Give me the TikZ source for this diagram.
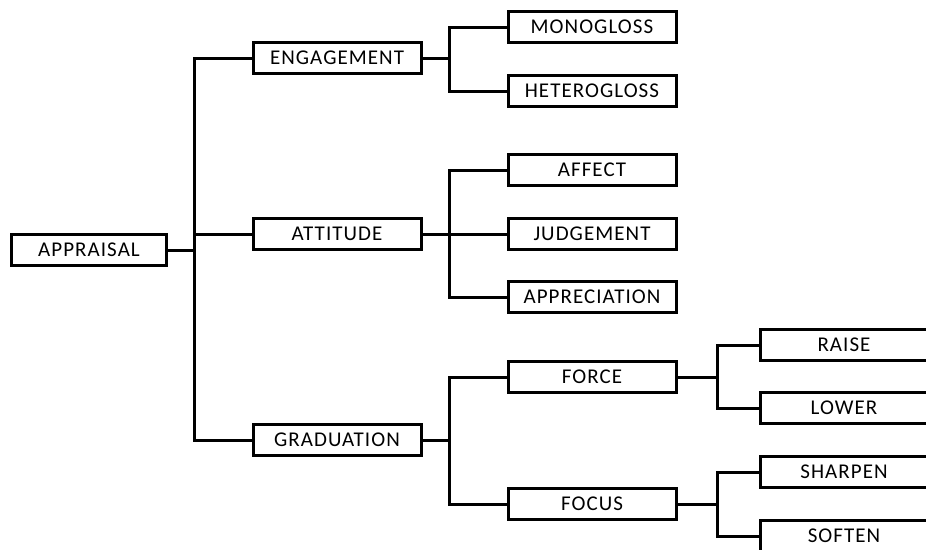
\documentclass[tikz,border=0pt]{standalone}
\usepackage{fontspec}
\setmainfont{Carlito}[LetterSpace=5]
\usepackage{tikz}
\usetikzlibrary{positioning}

\begin{document}
\begin{tikzpicture}[x=1pt, y=-1pt,
  every node/.style={font=\fontsize{21}{24}\selectfont},
  catbox/.style={draw=black, line width=3pt, minimum width=168pt, minimum height=31pt, inner sep=0pt},
  rootbox/.style={catbox, minimum width=155pt},
  link/.style={line width=3pt}]
  \useasboundingbox (0,0) rectangle (926,549);
  \clip (0,0) rectangle (926,549);

  % root and first level
  \node[rootbox] (appraisal) at (89,250) {APPRAISAL};
  \node[catbox] (engagement) at (337,58) {ENGAGEMENT};
  \node[catbox] (attitude) at (337,234) {ATTITUDE};
  \node[catbox] (graduation) at (337,440) {GRADUATION};

  % second level
  \node[catbox] (monogloss) at (592,27) {MONOGLOSS};
  \node[catbox] (heterogloss) at (592,91) {HETEROGLOSS};
  \node[catbox] (affect) at (592,170) {AFFECT};
  \node[catbox] (judgement) at (592,234) {JUDGEMENT};
  \node[catbox] (appreciation) at (592,297) {APPRECIATION};
  \node[catbox] (force) at (592,377) {FORCE};
  \node[catbox] (focus) at (592,504) {FOCUS};

  % third level
  \node[catbox] (raise) at (844,345) {RAISE};
  \node[catbox] (lower) at (844,408) {LOWER};
  \node[catbox] (sharpen) at (844,472) {SHARPEN};
  \node[catbox] (soften) at (844,536) {SOFTEN};

  % junctions
  \coordinate (jroot) at (194,250);
  \coordinate (jeng) at (449,58);
  \coordinate (jatt) at (449,234);
  \coordinate (jgrad) at (449,440);
  \coordinate (jforce) at (717,377);
  \coordinate (jfocus) at (717,504);

  \draw[link] (appraisal) -- (jroot);
  \draw[link] (jroot) |- (engagement);
  \draw[link] (jroot) |- (attitude);
  \draw[link] (jroot) |- (graduation);

  \draw[link] (engagement) -- (jeng);
  \draw[link] (jeng) |- (monogloss);
  \draw[link] (jeng) |- (heterogloss);

  \draw[link] (attitude) -- (jatt);
  \draw[link] (jatt) |- (affect);
  \draw[link] (jatt) -- (judgement);
  \draw[link] (jatt) |- (appreciation);

  \draw[link] (graduation) -- (jgrad);
  \draw[link] (jgrad) |- (force);
  \draw[link] (jgrad) |- (focus);

  \draw[link] (force) -- (jforce);
  \draw[link] (jforce) |- (raise);
  \draw[link] (jforce) |- (lower);

  \draw[link] (focus) -- (jfocus);
  \draw[link] (jfocus) |- (sharpen);
  \draw[link] (jfocus) |- (soften);
\end{tikzpicture}
\end{document}
